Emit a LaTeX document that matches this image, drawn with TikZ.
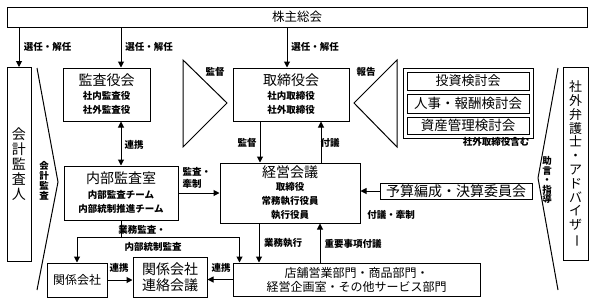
\documentclass[tikz,border=0pt]{standalone}
\usepackage{fontspec}
\setmainfont{Noto Sans CJK JP}
\usetikzlibrary{arrows.meta,positioning,calc}

\newcommand{\titlef}{\fontsize{14}{16}\selectfont}
\newcommand{\subf}{\bfseries\fontsize{9.5}{12}\selectfont}
\newcommand{\vbar}{\rotatebox[origin=c]{-90}{ー}}

\begin{document}
\begin{tikzpicture}[
        x=1pt, y=-1pt,
        line width=1pt,
        font=\fontsize{12}{14}\selectfont,
        % boxes and labels
        box/.style={rectangle, draw=black, fill=white, align=center, inner sep=1pt},
        lbl/.style={font=\bfseries\fontsize{9.5}{12}\selectfont, inner sep=0pt, align=left},
        vchars/.style={align=center, inner sep=0pt},
        arrow/.style={-{Triangle[length=6pt,width=6pt]}},
        twoway/.style={{Triangle[length=6pt,width=6pt]}-{Triangle[length=6pt,width=6pt]}}
    ]
    \useasboundingbox (0,0) rectangle (593,303);

    % Nodi
    \node (holders) [box, minimum width=580pt, minimum height=20pt, font=\fontsize{12.5}{14}\selectfont] at (297,17) {株主総会};

    \node (auditor) [box, minimum width=24pt, minimum height=194pt, font=\fontsize{14}{15}\selectfont] at (19,164.5)
        {会\\計\\監\\査\\人};
    \node (advisor) [box, minimum width=25pt, minimum height=193pt, font=\fontsize{13}{13.8}\selectfont] at (575.5,164)
        {社\\外\\弁\\護\\士\\・\\ア\\ド\\バ\\イ\\ザ\\\vbar};

    \node (kansa) [box, minimum width=87pt, minimum height=53pt] at (106.5,94.5)
        {\titlef 監査役会\\[0pt]\subf 社内監査役\\\subf 社外監査役};
    \node (board) [box, minimum width=116pt, minimum height=53pt] at (291,94.5)
        {\titlef 取締役会\\[0pt]\subf 社内取締役\\\subf 社外取締役};

    % Comitati a destra
    \node (committees) [box, minimum width=130pt, minimum height=70pt] at (468,103) {};
    \node (invest) [box, minimum width=122pt, minimum height=18pt, font=\fontsize{13}{14}\selectfont] at (468,81) {投資検討会};
    \node (reward) [box, minimum width=122pt, minimum height=19pt, font=\fontsize{13.5}{14}\selectfont] at (468,103.5) {人事・報酬検討会};
    \node (assets) [box, minimum width=122pt, minimum height=17pt, font=\fontsize{13.5}{14}\selectfont] at (468,125.5) {資産管理検討会};
    \node (outside) [lbl] at (496,142) {社外取締役含む};

    \node (naibu) [box, minimum width=114pt, minimum height=54pt] at (121,193)
        {\fontsize{14}{16}\selectfont 内部監査室\\[1pt]\subf 内部監査チーム\\\subf 内部統制推進チーム};
    \node (keiei) [box, minimum width=140pt, minimum height=60pt] at (290,193)
        {\titlef 経営会議\\[-1pt]\subf 取締役\\\subf 常務執行役員\\\subf 執行役員};
    \node (budget) [box, minimum width=152pt, minimum height=16pt, font=\fontsize{14}{15}\selectfont] at (456,191)
        {予算編成・決算委員会};

    \node (affil) [box, minimum width=60pt, minimum height=34pt] at (77,280) {関係会社};
    \node (liaison) [box, minimum width=74pt, minimum height=40pt, font=\fontsize{14}{16}\selectfont] at (170,277)
        {関係会社\\連絡会議};
    \node (depts) [box, minimum width=247pt, minimum height=33pt] at (356.5,279.5)
        {店舗営業部門・商品部門・\\経営企画室・その他サービス部門};

    % Triangoli e frecce aperte
    \draw (183,60) -- (227,103) -- (183,147) -- cycle;
    \node (supervise) [lbl] at (215,72) {監督};
    \draw (397,60) -- (354,103) -- (397,147) -- cycle;
    \node (report) [lbl] at (366,72) {報告};
    \draw (37,68) -- (58,182) -- (37,290);
    \node (audittext) [vchars, font=\bfseries\fontsize{9.5}{9.8}\selectfont] at (44,181) {会\\計\\監\\査};
    \draw (558,68) -- (538,178) -- (558,290);
    \node (advicetext) [vchars, font=\bfseries\fontsize{9.5}{9.5}\selectfont] at (547,180) {助\\言\\・\\指\\導};

    % Collegamenti dall'assemblea
    \draw [arrow] (holders.south -| auditor) -- (auditor.north);
    \node [lbl] at (47.5,47) {選任・解任};
    \draw [arrow] (holders.south -| naibu) -- (kansa.north -| naibu);
    \node [lbl] at (149,47) {選任・解任};
    \draw [arrow] ([xshift=-4pt]holders.south -| board) -- ([xshift=-4pt]board.north);
    \node [lbl] at (315,47) {選任・解任};

    \draw [twoway] (kansa.south -| naibu) -- (naibu.north);
    \node [lbl] at (134,145) {連携};

    \draw [arrow] ([xshift=-31pt]board.south) -- ([xshift=-31pt]board.south |- keiei.north);
    \node [lbl] at (247,143) {監督};
    \draw [arrow] ([xshift=30pt]board.south |- keiei.north) -- ([xshift=30pt]board.south);
    \node [lbl] at (330,143) {付議};

    \draw [arrow] (naibu.east) -- (keiei.west);
    \node [lbl, anchor=west] at (182,178) {監査・\\牽制};
    \draw [arrow] (budget.west) -- (budget.west -| keiei.east);
    \node [lbl] at (391,215) {付議・牽制};

    % Audit lines down to the lower boxes
    \coordinate (busline) at ($(naibu.south)+(0,17)$);
    \draw (naibu.south) -- (busline);
    \draw [arrow] (busline) -| (affil.north);
    \draw [arrow] (busline) -| ([xshift=7pt]depts.north west);
    \node [lbl] at (142,230) {業務監査・};
    \node [lbl] at (153,247) {内部統制監査};

    \draw [arrow] ([xshift=-31pt]keiei.south) -- ([xshift=-31pt]keiei.south |- depts.north);
    \node [lbl] at (283,243) {業務執行};
    \draw [arrow] ([xshift=30pt]keiei.south |- depts.north) -- ([xshift=30pt]keiei.south);
    \node [lbl] at (353,244) {重要事項付議};

    \draw [arrow] (affil.east) -- (affil.east -| liaison.west);
    \node [lbl] at (119,268) {連携};
    \draw [arrow] (depts.west) -- (depts.west -| liaison.east);
    \node [lbl] at (221,268) {連携};

\end{tikzpicture}
\end{document}
